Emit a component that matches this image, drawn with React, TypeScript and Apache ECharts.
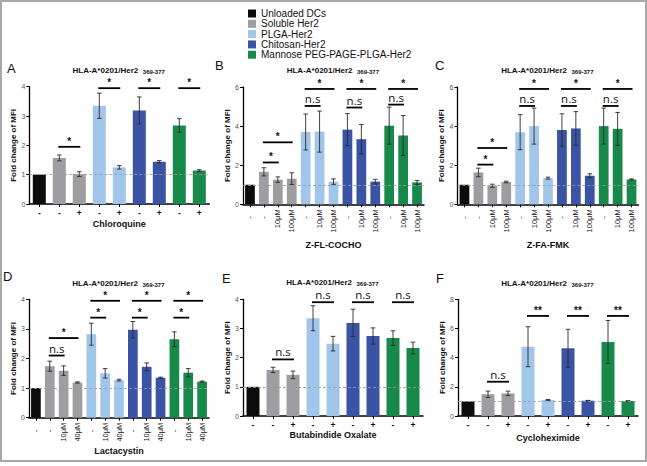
import React, { useEffect, useRef } from "react";
import * as echarts from "echarts";

// ---------- data ----------
const GROUP_NAMES = ["Unloaded DCs", "Soluble Her2", "PLGA-Her2", "Chitosan-Her2", "Mannose PEG-PAGE-PLGA-Her2"];
const GROUP_COLORS = ["#0c0c0c", "#9e9ea2", "#a2c6ea", "#3a53a5", "#17894b"];

const LABELS_PM = ["-", "-", "+", "-", "+", "-", "+", "-", "+"];
const GROUPS_9 = [0, 1, 1, 2, 2, 3, 3, 4, 4];
const LABELS_ZFL = ["-", "-", "10μM", "100μM", "-", "10μM", "100μM", "-", "10μM", "100μM", "-", "10μM", "100μM"];
const LABELS_LAC = ["-", "-", "10μM", "40μM", "-", "10μM", "40μM", "-", "10μM", "40μM", "-", "10μM", "40μM"];
const GROUPS_13 = [0, 1, 1, 1, 2, 2, 2, 3, 3, 3, 4, 4, 4];

// A: Chloroquine
const A_MEANS = [1.0, 1.57, 1.02, 3.35, 1.25, 3.19, 1.44, 2.68, 1.14];
const A_ERRORS = [0, 0.1, 0.08, 0.43, 0.06, 0.46, 0.04, 0.23, 0.03];
const A_SIG = [[1, 2, 1.95], [3, 4, 3.95], [5, 6, 3.95], [7, 8, 3.95]];
const A_SIG_MARKS = ["*", "*", "*", "*"];

// B: Z-FL-COCHO
const B_MEANS = [1.0, 1.66, 1.26, 1.31, 3.7, 3.72, 1.16, 3.82, 3.33, 1.16, 4.02, 3.52, 1.12];
const B_ERRORS = [0, 0.21, 0.14, 0.3, 0.92, 1.05, 0.14, 0.82, 0.75, 0.12, 0.95, 1.02, 0.1];
const B_SIG = [[1, 2, 2.14], [1, 3, 3.17], [4, 5, 5.03], [4, 6, 5.9], [7, 8, 4.95], [7, 9, 5.9], [10, 11, 5.1], [10, 12, 5.9]];
const B_SIG_MARKS = ["*", "*", "n.s", "*", "n.s", "*", "n.s", "*"];

// C: Z-FA-FMK
const C_MEANS = [1.0, 1.63, 0.95, 1.14, 3.69, 4.0, 1.34, 3.8, 3.88, 1.46, 4.0, 3.86, 1.27];
const C_ERRORS = [0, 0.22, 0.08, 0.04, 0.9, 0.92, 0.05, 0.83, 0.86, 0.1, 0.92, 0.84, 0.03];
const C_SIG = [[1, 2, 2.03], [1, 3, 2.88], [4, 5, 5.03], [4, 6, 5.9], [7, 8, 5.03], [7, 9, 5.9], [10, 11, 5.03], [10, 12, 5.9]];
const C_SIG_MARKS = ["*", "*", "n.s", "*", "n.s", "*", "n.s", "*"];

// D: Lactacystin
const D_MEANS = [1.0, 1.74, 1.59, 1.19, 2.82, 1.5, 1.27, 2.97, 1.72, 1.35, 2.65, 1.52, 1.22];
const D_ERRORS = [0, 0.17, 0.16, 0.02, 0.37, 0.16, 0.03, 0.28, 0.13, 0.02, 0.25, 0.14, 0.02];
const D_SIG = [[1, 2, 2.1], [1, 3, 2.69], [4, 5, 3.38], [4, 6, 3.95], [7, 8, 3.38], [7, 9, 3.95], [10, 11, 3.38], [10, 12, 3.95]];
const D_SIG_MARKS = ["n.s", "*", "*", "*", "*", "*", "*", "*"];

// E: Butabindide Oxalate
const E_MEANS = [1.0, 1.58, 1.41, 3.35, 2.48, 3.19, 2.74, 2.67, 2.33];
const E_ERRORS = [0, 0.09, 0.13, 0.43, 0.25, 0.47, 0.28, 0.25, 0.2];
const E_SIG = [[1, 2, 1.94], [3, 4, 3.9], [5, 6, 3.9], [7, 8, 3.9]];
const E_SIG_MARKS = ["n.s", "n.s", "n.s", "n.s"];

// F: Cycloheximide
const F_MEANS = [1.0, 1.49, 1.55, 4.75, 1.1, 4.64, 1.05, 5.08, 1.03];
const F_ERRORS = [0, 0.22, 0.15, 1.37, 0.03, 1.3, 0.02, 1.47, 0.02];
const F_SIG = [[1, 2, 2.35], [3, 4, 6.86], [5, 6, 6.86], [7, 8, 6.86]];
const F_SIG_MARKS = ["n.s", "**", "**", "**"];

const Y_MAX = [4, 6, 6, 4, 4, 8];
const Y_INTERVAL = [1, 2, 2, 1, 1, 2];
const X_TITLES = ["Chloroquine", "Z-FL-COCHO", "Z-FA-FMK", "Lactacystin", "Butabindide Oxalate", "Cycloheximide"];
const PANEL_LETTERS = ["A", "B", "C", "D", "E", "F"];
const TITLE_MAIN = "HLA-A*0201/Her2";
const TITLE_SUB = "369-377";
const Y_TITLE = "Fold change of MFI";

const PANELS = [
  { labels: LABELS_PM, groups: GROUPS_9, means: A_MEANS, errors: A_ERRORS, sig: A_SIG, marks: A_SIG_MARKS },
  { labels: LABELS_ZFL, groups: GROUPS_13, means: B_MEANS, errors: B_ERRORS, sig: B_SIG, marks: B_SIG_MARKS },
  { labels: LABELS_ZFL, groups: GROUPS_13, means: C_MEANS, errors: C_ERRORS, sig: C_SIG, marks: C_SIG_MARKS },
  { labels: LABELS_LAC, groups: GROUPS_13, means: D_MEANS, errors: D_ERRORS, sig: D_SIG, marks: D_SIG_MARKS },
  { labels: LABELS_PM, groups: GROUPS_9, means: E_MEANS, errors: E_ERRORS, sig: E_SIG, marks: E_SIG_MARKS },
  { labels: LABELS_PM, groups: GROUPS_9, means: F_MEANS, errors: F_ERRORS, sig: F_SIG, marks: F_SIG_MARKS },
];

// ---------- layout ----------
const LAYOUT = [
  { grid: { left: 29.3, top: 86.7, width: 180, height: 117.3 }, rotate: false, nameGap: 15, tx: 119.3, ty: 70, lx: 7, ly: 62 },
  { grid: { left: 243, top: 87, width: 181, height: 117.3 }, rotate: true, nameGap: 36, tx: 333.5, ty: 70, lx: 215, ly: 59 },
  { grid: { left: 457.5, top: 87, width: 181, height: 117.3 }, rotate: true, nameGap: 36, tx: 548, ty: 70, lx: 435, ly: 59 },
  { grid: { left: 29, top: 299.3, width: 180, height: 118.4 }, rotate: true, nameGap: 29, tx: 119, ty: 283, lx: 3, ly: 270 },
  { grid: { left: 243, top: 299.3, width: 180, height: 116.7 }, rotate: false, nameGap: 14.5, tx: 333, ty: 282.3, lx: 222, ly: 272 },
  { grid: { left: 458, top: 299.3, width: 180, height: 116.7 }, rotate: false, nameGap: 17.5, tx: 548, ty: 283, lx: 436, ly: 272 },
];

const FONT = "'Liberation Sans', Arial, Helvetica, sans-serif";

function buildOption() {
  const grids = LAYOUT.map((l) => ({ ...l.grid }));
  const xAxes = PANELS.map((p, i) => {
    const l = LAYOUT[i];
    return {
      gridIndex: i,
      type: "category",
      data: p.labels,
      name: X_TITLES[i],
      nameLocation: "middle",
      nameGap: l.nameGap,
      nameTextStyle: { fontSize: 9, fontWeight: "bold", color: "#111", fontFamily: FONT },
      axisLine: { lineStyle: { color: "#000", width: 1.5 } },
      axisTick: { show: true, alignWithLabel: true, length: 3, lineStyle: { color: "#000", width: 1 } },
      axisLabel: l.rotate
        ? {
            rotate: 90,
            interval: 0,
            margin: 5,
            fontSize: 7.5,
            color: "#111",
            fontFamily: FONT,
            formatter: (v: string) => (v === "-" ? "{d|-}" : v),
            rich: { d: { fontSize: 7.5, padding: [0, 7, 0, 0], color: "#111" } },
          }
        : { interval: 0, margin: 4, fontSize: 8.5, fontWeight: "bold", color: "#111", fontFamily: FONT },
    };
  });
  const yAxes = PANELS.map((p, i) => ({
    gridIndex: i,
    type: "value",
    min: 0,
    max: Y_MAX[i],
    interval: Y_INTERVAL[i],
    name: Y_TITLE,
    nameLocation: "middle",
    nameGap: 11,
    nameTextStyle: { fontSize: 8, fontWeight: "bold", color: "#111", fontFamily: FONT },
    axisLine: { show: true, lineStyle: { color: "#000", width: 1.3 } },
    axisTick: { show: true, length: 3, lineStyle: { color: "#000", width: 1 } },
    axisLabel: { margin: 4, fontSize: 7, color: "#555", fontFamily: FONT },
    splitLine: { show: false },
  }));

  const series: any[] = [];
  PANELS.forEach((p, i) => {
    series.push({
      type: "bar",
      xAxisIndex: i,
      yAxisIndex: i,
      barWidth: p.labels.length > 9 ? "70%" : "65%",
      data: p.means.map((v, k) => ({ value: v, itemStyle: { color: GROUP_COLORS[p.groups[k]] } })),
      markLine: {
        silent: true,
        symbol: ["none", "none"],
        label: { show: false },
        lineStyle: { type: [3, 2], color: "#9a9a9a", width: 0.8 },
        data: [{ yAxis: 1 }],
      },
      z: 2,
    });
    series.push({
      type: "custom",
      xAxisIndex: i,
      yAxisIndex: i,
      data: p.means.map((m, k) => [k, m, p.errors[k]]),
      encode: { x: 0, y: 1 },
      z: 3,
      renderItem: (params: any, api: any) => {
        const x = api.value(0);
        const m = api.value(1);
        const e = api.value(2);
        if (!e) return { type: "group", children: [] };
        const top = api.coord([x, m + e]);
        const bot = api.coord([x, m - e]);
        const hw = 2.3;
        const st = { stroke: "#2a2a2a", lineWidth: 0.9 };
        return {
          type: "group",
          children: [
            { type: "line", shape: { x1: top[0], y1: top[1], x2: bot[0], y2: bot[1] }, style: st },
            { type: "line", shape: { x1: top[0] - hw, y1: top[1], x2: top[0] + hw, y2: top[1] }, style: st },
            { type: "line", shape: { x1: bot[0] - hw, y1: bot[1], x2: bot[0] + hw, y2: bot[1] }, style: st },
          ],
        };
      },
    });
    series.push({
      type: "custom",
      xAxisIndex: i,
      yAxisIndex: i,
      data: p.sig,
      encode: { x: [0, 1], y: 2 },
      z: 4,
      renderItem: (params: any, api: any) => {
        const p1 = api.coord([api.value(0), api.value(2)]);
        const p2 = api.coord([api.value(1), api.value(2)]);
        const mark = p.marks[params.dataIndex];
        const isNs = mark === "n.s";
        const mid = (p1[0] + p2[0]) / 2;
        return {
          type: "group",
          children: [
            { type: "line", shape: { x1: p1[0] - 1, y1: p1[1], x2: p2[0] + 1, y2: p2[1] }, style: { stroke: "#000", lineWidth: 1.8 } },
            {
              type: "text",
              x: mid,
              y: p1[1] - (isNs ? 7.5 : 5.5),
              style: {
                text: mark,
                fill: "#111",
                fontSize: isNs ? 11.5 : 10,
                lineHeight: isNs ? 10 : 9,
                fontWeight: isNs ? "normal" : "bold",
                fontFamily: isNs ? "'Open Sans', sans-serif" : FONT,
                align: "center",
                verticalAlign: "middle",
              },
            },
          ],
        };
      },
    });
  });

  // legend entries
  GROUP_NAMES.forEach((n, g) => {
    series.push({
      type: "line",
      name: n,
      xAxisIndex: 0,
      yAxisIndex: 0,
      data: [],
      itemStyle: { color: GROUP_COLORS[g] },
      lineStyle: { color: GROUP_COLORS[g] },
    });
  });

  const graphic: any[] = [
    { type: "rect", shape: { x: 1, y: 1, width: 645, height: 460 }, style: { fill: "none", stroke: "#a8a8a8", lineWidth: 2 }, silent: true },
  ];
  LAYOUT.forEach((l, i) => {
    graphic.push({
      type: "text",
      x: l.tx + 19,
      y: l.ty,
      style: { text: TITLE_MAIN, fontSize: 8, lineHeight: 8, fontWeight: "bold", fill: "#111", fontFamily: FONT, align: "right", verticalAlign: "middle" },
    });
    graphic.push({
      type: "text",
      x: l.tx + 23.5,
      y: l.ty + 2,
      style: { text: TITLE_SUB, fontSize: 6, lineHeight: 6, fontWeight: "bold", fill: "#111", fontFamily: FONT, align: "left", verticalAlign: "middle" },
    });
    graphic.push({
      type: "text",
      x: l.lx,
      y: l.ly,
      style: { text: PANEL_LETTERS[i], fontSize: 13, fill: "#111", fontFamily: FONT, align: "left", verticalAlign: "top" },
    });
  });

  return {
    animation: false,
    backgroundColor: "#ffffff",
    textStyle: { fontFamily: FONT },
    legend: {
      data: GROUP_NAMES,
      orient: "vertical",
      left: 248,
      top: 8.5,
      padding: 0,
      itemWidth: 8,
      itemHeight: 8,
      itemGap: 0.3,
      icon: "rect",
      selectedMode: false,
      textStyle: { fontSize: 10, color: "#111", lineHeight: 10, fontFamily: FONT },
    },
    grid: grids,
    xAxis: xAxes,
    yAxis: yAxes,
    series,
    graphic,
  };
}

export default function App() {
  const ref = useRef<HTMLDivElement | null>(null);
  useEffect(() => {
    if (!ref.current) return;
    const chart = echarts.init(ref.current, undefined, { renderer: "svg" });
    chart.setOption(buildOption() as any);
    return () => chart.dispose();
  }, []);
  return <div ref={ref} style={{ position: "fixed", left: 0, top: 0, width: 647, height: 466, background: "#fff" }} />;
}
